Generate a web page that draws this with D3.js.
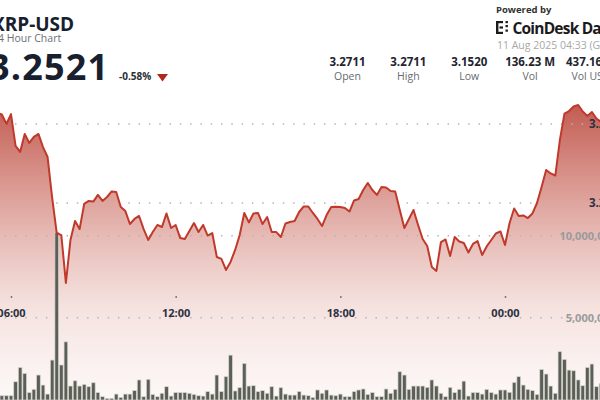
<!DOCTYPE html>
<html><head><meta charset="utf-8">
<script src="https://cdn.jsdelivr.net/npm/d3@7"></script>
<style>
html,body{margin:0;padding:0;background:#fff;overflow:hidden}
svg{display:block;font-family:"Open Sans",sans-serif}
</style></head><body>
<svg id="c" width="600" height="400"></svg>
<script>
// ---------- data ----------
const symbol = "XRP-USD";
const subtitle = "24 Hour Chart";
const lastPrice = "3.2521";
const changePct = "-0.58%";
const stampText = "11 Aug 2025 04:33 (GMT)";
const statValues = ["3.2711", "3.2711", "3.1520", "136.23 M", "437.16 M"];
const statLabels = ["Open", "High", "Low", "Vol", "Vol USD"];
const xTickTimes = ["2025-08-10T06:00:00Z", "2025-08-10T12:00:00Z", "2025-08-10T18:00:00Z", "2025-08-11T00:00:00Z"];
const xTickLabels = ["06:00", "12:00", "18:00", "00:00"];
const priceTicks = [3.20, 3.25];
const volumeTicks = [5000000, 10000000];
const startTime = "2025-08-10T05:30:00Z";
const stepMinutes = 10;
const prices = [
  3.2570, 3.2560, 3.2500, 3.2563, 3.2361, 3.2323, 3.2437, 3.2380, 3.2418, 3.2437,
  3.2354, 3.2291, 3.2032, 3.1810, 3.1797, 3.1494, 3.1766, 3.1886, 3.1835, 3.1994,
  3.2013, 3.2009, 3.2051, 3.2013, 3.2038, 3.2073, 3.2070, 3.1975, 3.1949, 3.1867,
  3.1899, 3.1918, 3.1835, 3.1766, 3.1816, 3.1861, 3.1848, 3.1934, 3.1842, 3.1861,
  3.1778, 3.1772, 3.1823, 3.1873, 3.1816, 3.1861, 3.1794, 3.1810, 3.1658, 3.1646,
  3.1576, 3.1627, 3.1703, 3.1797, 3.1937, 3.1877, 3.1934, 3.1937, 3.1867, 3.1911,
  3.1816, 3.1816, 3.1785, 3.1870, 3.1880, 3.1886, 3.1943, 3.1978, 3.1978, 3.1937,
  3.1899, 3.1854, 3.1924, 3.1975, 3.1977, 3.1975, 3.1968, 3.1946, 3.2016, 3.2025,
  3.2082, 3.2127, 3.2082, 3.2051, 3.2101, 3.2098, 3.2076, 3.2073, 3.1956, 3.1842,
  3.1899, 3.1956, 3.1861, 3.1772, 3.1728, 3.1595, 3.1570, 3.1753, 3.1769, 3.1665,
  3.1785, 3.1756, 3.1747, 3.1687, 3.1741, 3.1759, 3.1671, 3.1725, 3.1766, 3.1807,
  3.1820, 3.1734, 3.1873, 3.1965, 3.1918, 3.1921, 3.1905, 3.1934, 3.2000, 3.2101,
  3.2209, 3.2187, 3.2174, 3.2399, 3.2566, 3.2582, 3.2611, 3.2620, 3.2579, 3.2551,
  3.2576, 3.2535, 3.2513, 3.2521
];
const volumeMillions = [
  0.30, 0.26, 0.26, 0.26, 1.11, 1.98, 1.62, 0.45, 0.65, 1.52,
  0.91, 0.36, 2.43, 10.2, 2.13, 3.54, 0.85, 1.17, 0.85, 0.95,
  0.81, 1.05, 0.45, 0.20, 0.10, 0.10, 0.36, 0.16, 0.36, 0.36,
  0.57, 1.22, 0.20, 1.26, 0.34, 0.20, 0.41, 0.81, 0.24, 0.45,
  0.45, 0.45, 0.41, 0.34, 0.26, 0.24, 0.51, 0.36, 1.52, 0.51,
  1.42, 2.73, 0.55, 0.75, 2.23, 0.85, 0.87, 0.51, 0.57, 0.41,
  0.81, 0.24, 0.75, 0.36, 0.30, 0.30, 0.51, 0.30, 0.26, 0.16,
  0.61, 0.41, 0.61, 0.30, 0.26, 0.36, 0.20, 0.20, 0.51, 0.61,
  0.67, 0.34, 0.45, 0.20, 0.20, 0.67, 0.41, 0.65, 1.72, 1.52,
  0.65, 0.85, 0.85, 0.85, 0.77, 1.22, 0.85, 0.41, 0.20, 0.77,
  0.45, 0.65, 1.15, 0.24, 0.45, 0.45, 0.36, 0.65, 0.45, 0.36,
  0.61, 0.61, 0.47, 1.07, 1.42, 0.91, 0.65, 0.57, 0.34, 1.86,
  1.58, 0.85, 0.41, 2.94, 2.47, 1.82, 1.78, 1.22, 0.87, 1.98,
  2.19, 0.81, 1.01, 0.80
];

// ---------- build ----------
const t0 = +new Date(startTime);
const data = prices.map((p, i) => ({
  t: new Date(t0 + i * stepMinutes * 60000),
  p: p,
  v: volumeMillions[i] * 1e6
}));

const svg = d3.select("#c");
const W = 600, H = 400;

const x = d3.scaleUtc()
  .domain([new Date(xTickTimes[0]), new Date(xTickTimes[xTickTimes.length - 1])])
  .range([11, 505]);
const y = d3.scaleLinear().domain(priceTicks).range([203, 124]);
const yv = d3.scaleLinear().domain([0, volumeTicks[1]]).range([400, 235.7]);

const defs = svg.append("defs");
const grad = defs.append("linearGradient").attr("id", "ag")
  .attr("gradientUnits", "userSpaceOnUse")
  .attr("x1", 0).attr("y1", 95).attr("x2", 0).attr("y2", 400);
[[0, "#b9453a", 0.92], [0.35, "#c4594d", 0.55], [0.7, "#d27c70", 0.22], [1, "#e0a49a", 0.08]]
  .forEach(s => grad.append("stop").attr("offset", s[0]).attr("stop-color", s[1]).attr("stop-opacity", s[2]));

// area
const area = d3.area().x(d => x(d.t)).y0(H).y1(d => y(d.p));
svg.append("path").datum(data).attr("d", area).attr("fill", "url(#ag)");

// gridlines
const grid = svg.append("g");
priceTicks.forEach(p => {
  grid.append("line").attr("x1", -5.6).attr("x2", W).attr("y1", y(p)).attr("y2", y(p))
    .attr("stroke", "#b5b5b5").attr("stroke-width", 1.5).attr("stroke-dasharray", "1.5,8.8");
});
volumeTicks.forEach(v => {
  grid.append("line").attr("x1", -5.6).attr("x2", W).attr("y1", yv(v)).attr("y2", yv(v))
    .attr("stroke", "#b5b5b5").attr("stroke-width", 1.5).attr("stroke-dasharray", "1.5,8.8");
});

// volume bars
const bw = (x(new Date(t0 + stepMinutes * 60000)) - x(new Date(t0))) * 0.8;
svg.append("g").selectAll("rect").data(data).join("rect")
  .attr("x", d => x(d.t) - bw / 2)
  .attr("width", bw)
  .attr("y", d => yv(d.v))
  .attr("height", d => yv(0) - yv(d.v))
  .attr("fill", "#5b6057")
  .attr("stroke", "#d8d5d0")
  .attr("stroke-width", 0.7);

// price line
const line = d3.line().x(d => x(d.t)).y(d => y(d.p));
svg.append("path").datum(data).attr("d", line)
  .attr("fill", "none").attr("stroke", "#c0392b").attr("stroke-width", 2)
  .attr("stroke-linejoin", "round");

// x axis
const xa = svg.append("g").attr("transform", "translate(0,296)")
  .call(d3.axisBottom(x).tickValues(xTickTimes.map(s => new Date(s)))
    .tickSize(2).tickPadding(11).tickFormat((d, i) => xTickLabels[i]));
xa.select(".domain").remove();
xa.selectAll("line").attr("stroke", "#777").attr("stroke-width", 1.5);
xa.selectAll("text").attr("fill", "#2b3141").attr("font-size", 11).attr("font-weight", 700)
  .attr("font-family", "'Open Sans',sans-serif");

// right labels
priceTicks.forEach(p => {
  svg.append("text").attr("x", 589).attr("y", y(p) + 4).text(p.toFixed(2))
    .attr("font-size", 11.5).attr("font-weight", 700).attr("fill", "#2b3141");
});
volumeTicks.forEach(v => {
  svg.append("text").attr("x", 616).attr("y", yv(v) + 4).attr("text-anchor", "end")
    .text(d3.format(",")(v)).attr("font-size", 11).attr("font-weight", 700).attr("fill", "#9b9b9b");
});

// header
svg.append("text").attr("x", -8).attr("y", 30.5).text(symbol)
  .attr("font-size", 19).attr("font-weight", 700).attr("fill", "#18202f");
svg.append("text").attr("x", -8).attr("y", 42).text(subtitle)
  .attr("font-size", 10.5).attr("fill", "#6b6f76");
svg.append("text").attr("x", -11).attr("y", 80).text(lastPrice)
  .attr("font-size", 36).attr("font-weight", 700).attr("fill", "#18202f").attr("letter-spacing", 1.2);
svg.append("text").attr("x", 119).attr("y", 80).text(changePct)
  .attr("font-size", 10).attr("font-weight", 700).attr("fill", "#2b2f36");
svg.append("path").attr("d", "M157,74 L168,74 L162.5,81.5 Z").attr("fill", "#b3261c");

// branding
svg.append("text").attr("x", 496).attr("y", 12.5).text("Powered by")
  .attr("font-size", 9.5).attr("font-weight", 700).attr("fill", "#333");
const logo = svg.append("g").attr("fill", "#1b1b1b");
[[496, 21, 2.4, 13], [496, 21, 7, 2.2], [496, 31.8, 7, 2.2], [499.5, 26.4, 3.5, 2.2],
 [505.5, 21, 2.4, 2.2], [505.5, 25, 2.4, 2.2], [505.5, 29.5, 2.4, 2.2]].forEach(r => {
  logo.append("rect").attr("x", r[0]).attr("y", r[1]).attr("width", r[2]).attr("height", r[3]);
});
svg.append("text").attr("x", 512.5).attr("y", 33.5).text("CoinDesk Data")
  .attr("font-size", 15.5).attr("font-weight", 700).attr("fill", "#1b1b1b").attr("letter-spacing", -0.8);
svg.append("text").attr("x", 497).attr("y", 49).text(stampText)
  .attr("font-size", 10.5).attr("fill", "#a8a8a8");

// stats
const sx = d3.scalePoint().domain(statLabels).range([347.5, 591]);
statLabels.forEach((lab, i) => {
  svg.append("text").attr("x", sx(lab)).attr("y", 65.7).attr("text-anchor", "middle")
    .text(statValues[i]).attr("font-size", 11.5).attr("font-weight", 700).attr("fill", "#1f2430");
  svg.append("text").attr("x", sx(lab)).attr("y", 79.5).attr("text-anchor", "middle")
    .text(lab).attr("font-size", 10.5).attr("fill", "#666a70");
});
</script>
</body></html>
